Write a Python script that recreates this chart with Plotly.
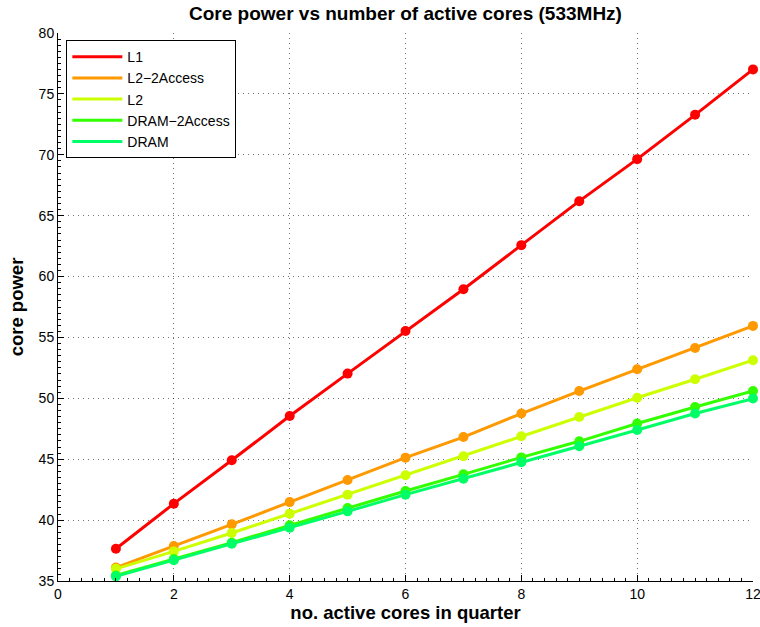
import plotly.graph_objects as go

# Number of active cores in the quarter
cores = [1, 2, 3, 4, 5, 6, 7, 8, 9, 10, 11, 12]

# Core power for each memory-access pattern (533MHz)
l1 = [37.65, 41.35, 44.91, 48.55, 52.03, 55.53, 58.96, 62.58, 66.19, 69.64, 73.28, 77.01]
l2_2access = [36.10, 37.87, 39.65, 41.48, 43.30, 45.13, 46.82, 48.75, 50.60, 52.39, 54.14, 55.95]
l2 = [36.00, 37.43, 38.94, 40.53, 42.09, 43.68, 45.24, 46.89, 48.47, 50.05, 51.57, 53.13]
dram_2access = [35.45, 36.80, 38.15, 39.57, 40.99, 42.39, 43.76, 45.15, 46.47, 47.93, 49.29, 50.60]
dram = [35.38, 36.70, 38.06, 39.38, 40.72, 42.09, 43.40, 44.75, 46.06, 47.40, 48.75, 49.98]

series_names = ["L1", "L2\u22122Access", "L2", "DRAM\u22122Access", "DRAM"]
series_values = [l1, l2_2access, l2, dram_2access, dram]
# first five colours of a 10-step HSV colormap
series_colors = ["#ff0000", "#ff9900", "#ccff00", "#33ff00", "#00ff66"]

x_ticks = [0, 2, 4, 6, 8, 10, 12]
y_ticks = [35, 40, 45, 50, 55, 60, 65, 70, 75, 80]

FONT = "Liberation Sans, Arial, Helvetica, sans-serif"

fig = go.Figure()
for name, vals, col in zip(series_names, series_values, series_colors):
    # line (shown in legend)
    fig.add_trace(go.Scatter(
        x=cores, y=vals, name=name, mode="lines",
        line=dict(color=col, width=3),
        legendgroup=name, showlegend=True,
    ))
    # dot markers on the data points
    fig.add_trace(go.Scatter(
        x=cores, y=vals, name=name, mode="markers",
        marker=dict(color=col, size=10, line=dict(width=0)),
        legendgroup=name, showlegend=False, cliponaxis=False,
    ))

axis_common = dict(
    showline=True, linecolor="black", linewidth=1, mirror=False,
    ticks="inside", ticklen=6, tickwidth=1, tickcolor="black",
    showgrid=True, gridcolor="rgba(0,0,0,0.55)", griddash="1px,4px", gridwidth=1,
    zeroline=False,
    tickfont=dict(family=FONT, size=14, color="black"),
    ticklabeloverflow="allow",
    automargin=False,
)

fig.update_xaxes(
    range=[0, 12], tickvals=x_ticks,
    minor=dict(ticks="inside", ticklen=3, tickcolor="black", dtick=0.2, showgrid=False),
    title=dict(text="<b>no. active cores in quarter</b>",
               font=dict(family=FONT, size=18.5, color="black"), standoff=5),
    **axis_common,
)
fig.update_yaxes(
    range=[35, 80], tickvals=y_ticks,
    minor=dict(ticks="inside", ticklen=3, tickcolor="black", dtick=0.5, showgrid=False),
    title=dict(text="<b>core power</b>",
               font=dict(family=FONT, size=18.5, color="black"), standoff=10),
    **axis_common,
)

fig.update_layout(
    width=760, height=627,
    margin=dict(l=58, r=7, t=33, b=46, autoexpand=False),
    paper_bgcolor="white", plot_bgcolor="white",
    title=dict(
        text="<b>Core power vs number of active cores (533MHz)</b>",
        font=dict(family=FONT, size=19, color="black"),
        x=0.5, xref="paper", xanchor="center",
        y=1 - 13 / 627, yref="container", yanchor="middle",
    ),
    legend=dict(
        x=0.012, y=0.987, xanchor="left", yanchor="top",
        bgcolor="white", bordercolor="black", borderwidth=1,
        font=dict(family=FONT, size=14, color="black"),
        tracegroupgap=0, itemwidth=50,
    ),
    showlegend=True,
)

fig.write_html("out.html")
